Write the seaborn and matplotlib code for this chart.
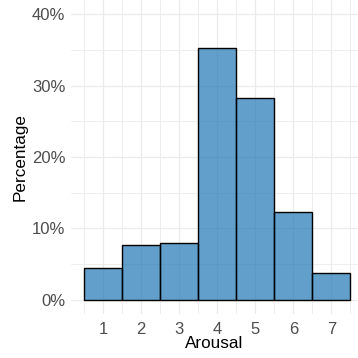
import matplotlib
matplotlib.use("Agg")
import matplotlib.pyplot as plt
import seaborn as sns
import pandas as pd
from matplotlib.ticker import FixedLocator

arousal = [1, 2, 3, 4, 5, 6, 7]
percent = [4.5, 7.7, 8.0, 35.3, 28.3, 12.3, 3.7]
y_ticks = [0, 10, 20, 30, 40]
y_tick_labels = ["0%", "10%", "20%", "30%", "40%"]

df = pd.DataFrame({"Arousal": arousal, "Percentage": percent})

sns.set_style("white")
plt.rcParams['font.family'] = ['Liberation Sans', 'DejaVu Sans']

fig = plt.figure(figsize=(3.58, 3.58), dpi=100)
W = H = 358
ax = fig.add_axes([71 / W, (H - 314) / H, (358 - 71) / W, 314 / H])

sns.barplot(data=df, x="Arousal", y="Percentage", native_scale=True, width=1.0,
            color="#1f77b4", saturation=1, edgecolor="black", linewidth=1.0,
            errorbar=None, ax=ax, zorder=3)
for p in ax.patches:
    p.set_alpha(None)
    p.set_facecolor((31 / 255, 119 / 255, 180 / 255, 0.7))
    p.set_edgecolor((0, 0, 0, 1))

ax.set_xlim(0.15, 0.15 + 287 / 38)
ax.set_ylim(-2, 42)

ax.set_xticks(arousal)
ax.set_xticklabels([str(a) for a in arousal])
ax.xaxis.set_minor_locator(FixedLocator([0.5 + i for i in range(8)]))
ax.set_yticks(y_ticks)
ax.set_yticklabels(y_tick_labels)
ax.yaxis.set_minor_locator(FixedLocator([5, 15, 25, 35]))

ax.grid(which="major", color="#ebebeb", linewidth=0.9, zorder=0)
ax.grid(which="minor", color="#ebebeb", linewidth=0.6, zorder=0)
ax.set_axisbelow(True)
for s in ax.spines.values():
    s.set_visible(False)

ax.tick_params(axis="both", which="both", length=0, labelsize=12, labelcolor="#4d4d4d")
ax.tick_params(axis="x", pad=6)
ax.tick_params(axis="y", pad=4)

ax.set_xlabel("Arousal", fontsize=12.3, color="black", labelpad=-1)
ax.set_ylabel("Percentage", fontsize=12.3, color="black", labelpad=3)

fig.savefig("out.png", dpi=100)
